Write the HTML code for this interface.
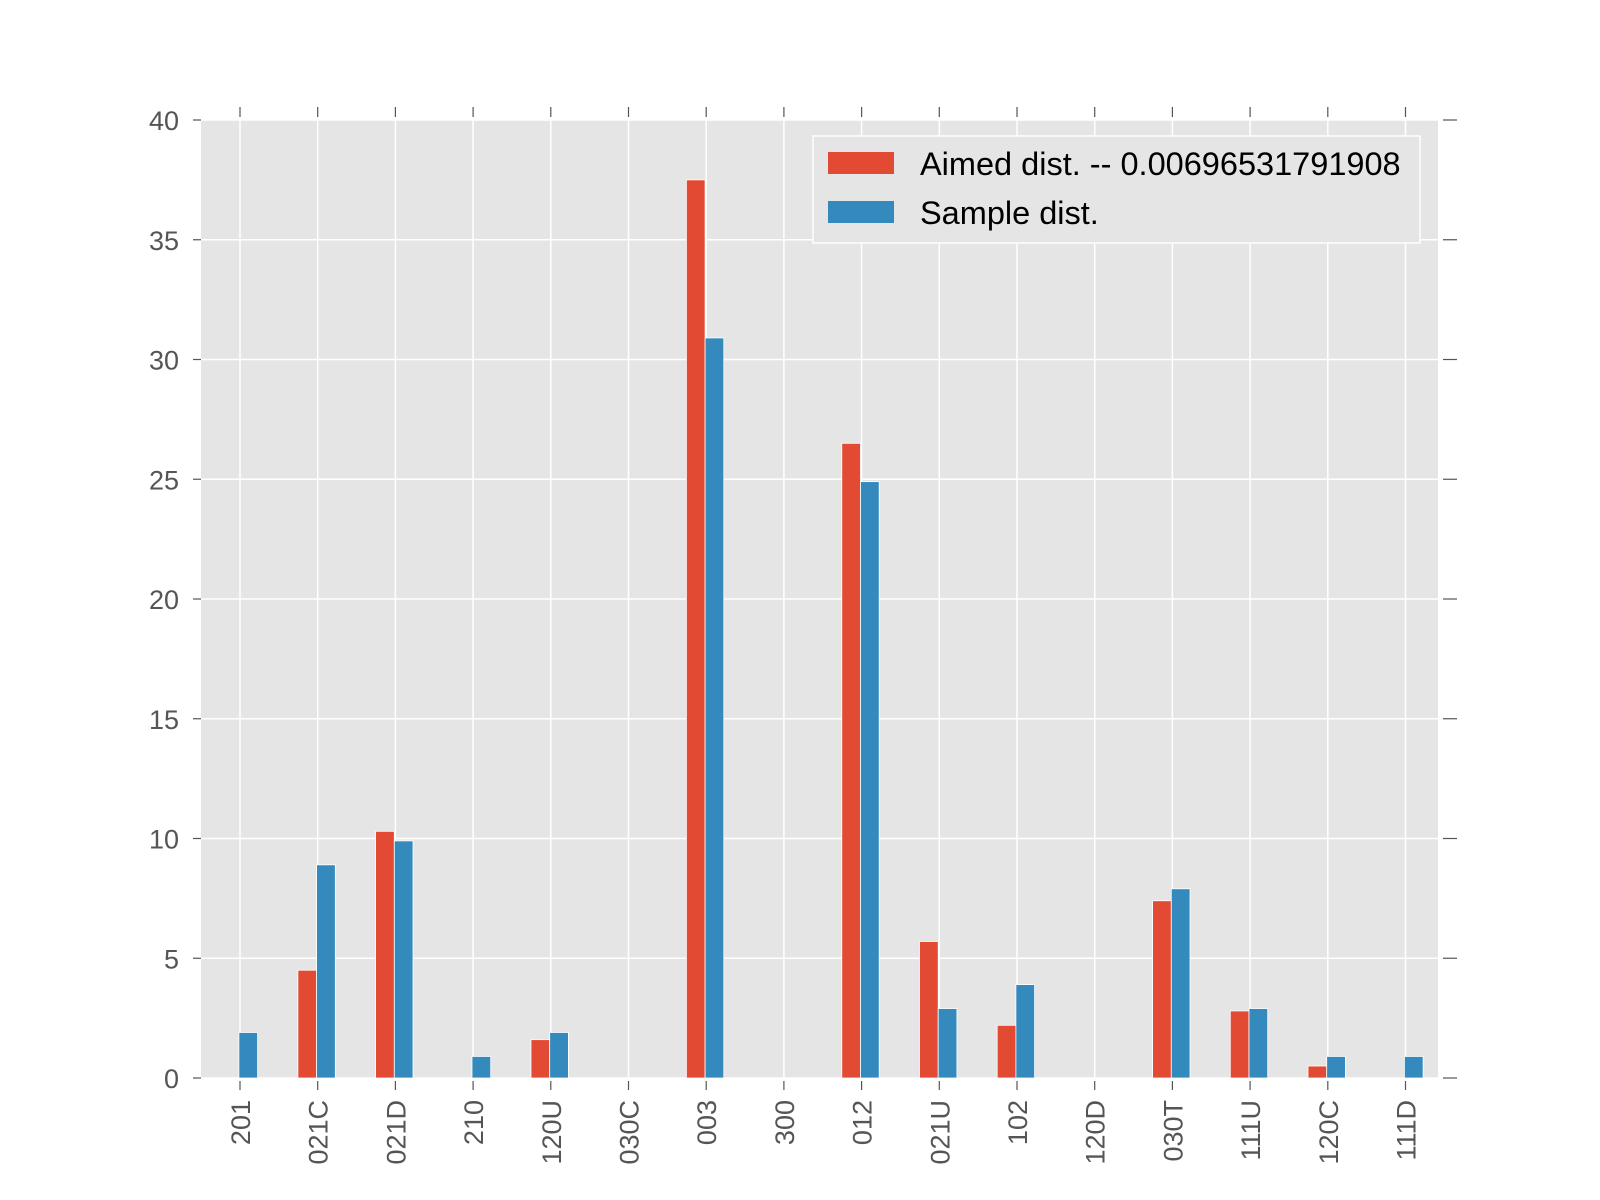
<!DOCTYPE html>
<html><head><meta charset="utf-8"><style>
body{margin:0;background:#fff;}
svg{display:block;font-family:"Liberation Sans",sans-serif;}
</style></head><body>
<svg id="chart" width="1600" height="1200" xmlns="http://www.w3.org/2000/svg">
<rect x="201" y="120" width="1237" height="958" fill="#e5e5e5"/>
<g id="grid"></g><g id="bars"></g><g id="axes"></g>
<g>
<rect x="813" y="136" width="607" height="107" fill="#e5e5e5" stroke="#fff" stroke-width="1.5"/>
<rect x="828" y="152" width="66" height="22" fill="#e24a33"/>
<text x="920" y="175" font-size="32.5" fill="#000">Aimed dist. -- 0.00696531791908</text>
<rect x="828" y="201" width="66" height="22" fill="#348abd"/>
<text x="920" y="224" font-size="32.5" fill="#000">Sample dist.</text>
</g>
</svg>
<script>
const categories=["201","021C","021D","210","120U","030C","003","300","012","021U","102","120D","030T","111U","120C","111D"];
const aimed=[0,4.5,10.3,0,1.6,0,37.5,0,26.5,5.7,2.2,0,7.4,2.8,0.5,0];
const sample=[1.9,8.9,9.9,0.9,1.9,0,30.9,0,24.9,2.9,3.9,0,7.9,2.9,0.9,0.9];
const yTicks=[0,5,10,15,20,25,30,35,40];
const NS="http://www.w3.org/2000/svg";
const L=201,R=1438,T=120,B=1078;
const y=v=>B-(v/40)*(B-T);
const x=i=>240+i*77.7;
const bw=18.7;
function mk(tag,attrs,parent){const e=document.createElementNS(NS,tag);for(const k in attrs)e.setAttribute(k,attrs[k]);parent.appendChild(e);return e;}
const grid=document.getElementById('grid'),bars=document.getElementById('bars'),axes=document.getElementById('axes');
yTicks.forEach(t=>{
  const g=mk('line',{x1:L,x2:R,y1:y(t),y2:y(t),stroke:'#fff','stroke-width':1.5},grid);
  
  
  const tl=mk('line',{x1:L-8,x2:L,y1:y(t),y2:y(t),stroke:'#555','stroke-width':1.2},axes);
  
  
  const tr=mk('line',{x1:R+5,x2:R+19,y1:y(t),y2:y(t),stroke:'#555','stroke-width':1.2},axes);
  
  
  const lb=mk('text',{x:179,y:y(t)+10,'font-size':27,fill:'#555','text-anchor':'end'},axes);
  lb.textContent=t;
  
  
});
categories.forEach((c,i)=>{
  const cx=x(i);
  const g=mk('line',{x1:cx,x2:cx,y1:T,y2:B,stroke:'#fff','stroke-width':1.5},grid);
  
  
  const ra=mk('rect',{x:cx-19.8,y:y(aimed[i]),width:bw,height:B-y(aimed[i]),fill:'#e24a33',stroke:'#fff','stroke-width':0.8},bars);
  
  
  const rs=mk('rect',{x:cx-1.1,y:y(sample[i]),width:bw,height:B-y(sample[i]),fill:'#348abd',stroke:'#fff','stroke-width':0.8},bars);
  
  
  const tt=mk('line',{x1:cx,x2:cx,y1:107,y2:117,stroke:'#555','stroke-width':1.2},axes);
  
  
  const tb=mk('line',{x1:cx,x2:cx,y1:1081,y2:1090,stroke:'#555','stroke-width':1.2},axes);
  
  
  const lb=mk('text',{x:0,y:0,'font-size':27,fill:'#555','text-anchor':'end',transform:`translate(${cx+10},1100) rotate(-90)`},axes);
  lb.textContent=c;
  
  
});
</script>
</body></html>
